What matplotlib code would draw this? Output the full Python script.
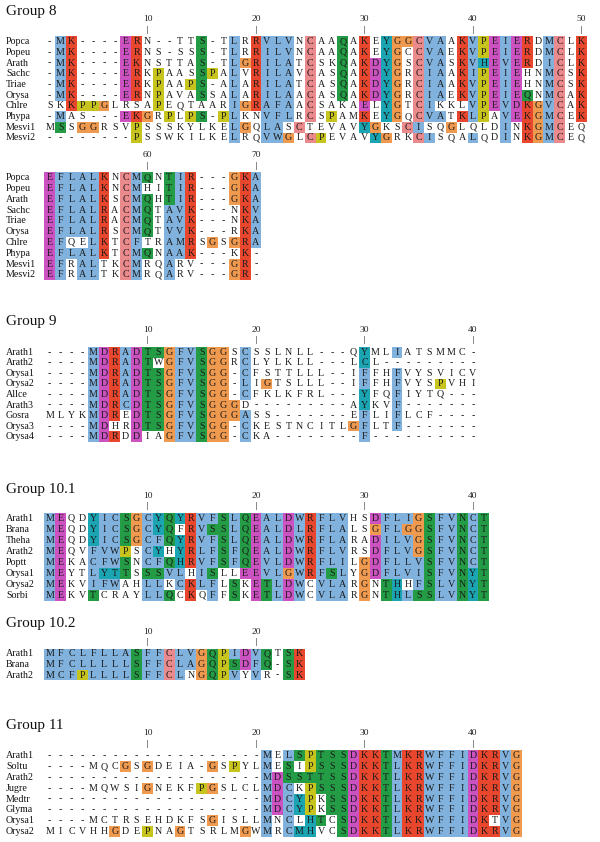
import matplotlib
matplotlib.use('Agg')
import matplotlib.pyplot as plt
from matplotlib.patches import Rectangle

# ── Alignment data ───────────────────────────────────────────────
# colour codes (ClustalX classes): b hydrophobic, r positive, m negative,
# g polar, o glycine, y proline, c aromatic, p cysteine, . none
G8_NAMES = ['Popca', 'Popeu', 'Arath', 'Sachc', 'Triae', 'Orysa',
            'Chlre', 'Phypa', 'Mesvi1', 'Mesvi2']
G8_SEQ_A = [
    '-MK----ERN--TTS-TLRRVLVNCAAQAKEYGGCVAAKVPEIERDMCLK',
    '-MK----ERNS-SSS-TLRRILVNCAAQAKEYGCCVAEKVPEIERDMCLK',
    '-MK----EKNSTTAS-TLGRILATCSKQAKDYGSCVASKVHEVERDICLK',
    '-MK----ERKPAASSPALVRILAVCASQAKDYGRCIAAKIPEIEHNMCSK',
    '-MK----ERKPAAPS-ALARILATCASQAKDYGRCIAAKVPEIEHNMCSK',
    '-MK----ERNPAVASSALARILAACASQAKDYGRCIAEKVPEIEQNMCAK',
    'SKKPPGLRSAPEQTAARIGRAFAACSAKAELYGTCIKKLVPEVDKGVCAK',
    '-MAS---EKGRPLPS-PLKNVFLRCSPAMKEYGQCVATKLPAVEKGMCEK',
    'MSSGGRSVPSSSKYLKELGQLASCTEVAVYGKSCISQGLQLDINKGMCEQ',
    '--------PSSWKILKELRQVWGLCPEVAVYGRKCISQALQDINKGMCEQ',
]
G8_COL_A = [
    '.br....mr.....g..b.rbbb.p..g.r.coopbb.rbymbmr.bp.r',
    '.br....mr.....g..b.rbbb.p..g.r.co.pbb.rbymbmr.bp.r',
    '.br....mr.....g..borbbb.p..g.rmco.pbb.rbcmbmr.bp.r',
    '.br....mr.y...gy.b.rbbb.p..g.rmco.pbb.rbymbm..bp.r',
    '.br....mr.y..yg..b.rbbb.p..g.rmco.pbb.rbymbm..bp.r',
    '.br....mr.y...g..b.rbbb.p..g.rmco.pbb.rbymbmg.bp.r',
    '..ryyo....y......borbbb.p....m.co.pb...bymbmrobp.r',
    '.b.....mro.y.yg.yb..bbb.p.y..r.co.pbb.rby.bmrobp.r',
    '.g.oo...y........bo.bb.p.....co..pb..o....b.robp..',
    '........y........b..bbo.py....co..pb...b..b.robp..',
]
G8_SEQ_B = [
    'EFLALKNCMQNTIR---GKA',
    'EFLALKNCMHITIR---GKA',
    'EFLALKSCMQHTIR---GKA',
    'EFLALRACMQTAVK---NKV',
    'EFLALRACMQTAVK---NKA',
    'EFLALRSCMQTVVK---RKA',
    'EFQELKTCFTRAMRSGSGRA',
    'EFLALKTCMQNAAK---KK-',
    'EFRALTKCMRQARV---GR-',
    'EFRALTKCMRQARV---GR-',
]
G8_COL_B = [
    'mbbbbr.pbg.gbr...orb',
    'mbbbbr.pb..gbr...orb',
    'mbbbbr.pbg.gbr...orb',
    'mbbbbr.pbg.bbr....rb',
    'mbbbbr.pbg.bbr....rb',
    'mbbbbr.pbg.bbr....rb',
    'mb..br.pb..bbr.o.orb',
    'mbbbbr.pbg.bbr....r.',
    'mb.bb..pb..b.....or.',
    'mb.bb..pb..b.....or.',
]

G9_NAMES = ['Arath1', 'Arath2', 'Orysa1', 'Orysa2', 'Allce', 'Arath3',
            'Gosra', 'Orysa3', 'Orysa4']
G9_SEQ = [
    '----MDRADTSGFVSGGSCSSLNLL---QYMLIATSMMC-',
    '----MDRADTWGFVSGGRCLYLKLL---LCL---------',
    '----MDRADTSGFVSGG-CFSTTLLL--IFFHFVYSVICV',
    '----MDRADTSGFVSGG-LIGTSLLL--IFFHFVYSPVHI',
    '----MDRADTSGFVSGG-CFKLKFRL---YFQFIYTQ---',
    '----MDRCDTSGFVSGGGD---------AYKVF-------',
    'MLYKMDREDTSGFVSGGGASS-------EFLIFLCF----',
    '----MDHRDTSGFVSGG-CKESTNCITLGFLTF-------',
    '----MDRDDIAGFVSGG-CKA--------F----------',
]
G9_COL = [
    '....bmrbmggobbgoo.b..........c..b.......',
    '....bmrbmg.obbgoo.b..........c..........',
    '....bmrbmggobbgoo.b..........b..b.......',
    '....bmrbmggobbgoo.b.o........b..b...y...',
    '....bmrbmggobbgoo.b..........c..b.......',
    '....bmrbmggobbgooo...........c..b.......',
    '....bmr.mggobbgooob..........b..b.......',
    '....bm..mggobbgoo.b.........ob..b.......',
    '....bmr.m..obbgoo.b..........b..........',
]

G101_NAMES = ['Arath1', 'Brana', 'Theha', 'Arath2', 'Poptt', 'Orysa1',
              'Orysa2', 'Sorbi']
G101_SEQ = [
    'MEQDYICSGCYQYRVFSLQEALDWRFLVHSDFLIGSFVNCT',
    'MEQDYICSGCYQFRVSSLQEALDLRFLALSGFLGGSFVNCT',
    'MEQDYICSGCFQYRVFSLQEALDWRFLARADILVGSFVNCT',
    'MEQVFVWPSCYHYRLFSFQEALDWRFLVRSDFLVGSFVNCT',
    'MEKACFWSNCFQHRVFSFQEVLDWRFLILGDFLLVSFVNCT',
    'MEYTLYTTSSSVLHISLLEEVLGWRFSLYGDFLVISFVNYT',
    'MEKVIFWAHLLKCKLFLSKETLDWCVLARGNTHHFSLVNYT',
    'MEKVTCRAYLLQCKQFFSKETLDWCVLARGNTHLSSLVNYT',
]
G101_COL = [
    'bm..cbbgobcgcrbbgbgmbbmbrbbb..mbbbogbbgbg',
    'bm..cbbgobcg.rbggbgmbbmbrbbb..obboogbbgbg',
    'bm..cbbgobbgcrbbgbgmbbmbrbbb..mbbbogbbgbg',
    'bm..bbby.bc.crbbgbgmbbmbrbbb..mbbbogbbgbg',
    'bm..bbbg.bbgcrbbgbgmbbmbrbbb.ombbbbgbbgbg',
    'bm..bccg.ggbb.bg..mmbbobrbgb.ombbbbgbbgcg',
    'bm..bbb..bb.brbb.g.mgbmb.bbb.o.gc.bgbbgcg',
    'bm..g....bbg.r.b.g.mgbmb.bbb.o.gcbggbbgcg',
]

G102_NAMES = ['Arath1', 'Brana', 'Arath2']
G102_SEQ = [
    'MFCLFLLASFFCLVGQPIDVQTSK',
    'MFCLLLLLSFFCLAGQPSDFQ-SK',
    'MCFPLLLLSFFCLNGQPVYVR-SK',
]
G102_COL = [
    'bbbbbbbbgbbpbbogybmbg.gr',
    'bbbbbbbbgbbpbbogygmbg.gr',
    'bbbybbbbgbbpb.ogyb.b..gr',
]

G11_NAMES = ['Arath1', 'Soltu', 'Arath2', 'Jugre', 'Medtr', 'Glyma',
             'Orysa1', 'Orysa2']
G11_SEQ = [
    '--------------------MELSPTSSDKKTMKRWFFIDKRVG',
    '----MQCGSGDEIA-GSPYLMESIPSSSDKKTLKRWFFIDKRVG',
    '--------------------MDSSTTSSDKKTLKRWFFIDKRVG',
    '----MQWSIGNEKFPGSLCLMDCKPSSSDKKTLKRWFFIDKRVG',
    '--------------------MDCYPKSSDKKTLKRWFFIDKRVG',
    '--------------------MDCYPKSSDKKTLKRWFFIDKRVG',
    '----MCTRSEHDKFSGISLLMNCLHTCSDKKTLKKWFFIDKTVG',
    'MICVHHGDEPNAGTSRLMGWMRCMHVCSDKKTLKRWFFIDKRVG',
]
G11_COL = [
    '....................b.bgygggmrrgbrrbbbbmrrbo',
    '.......o.o.....o.y..b.g.ygggmrrgbrrbbbbmrrbo',
    '....................bmggggggmrrgbrrbbbbmrrbo',
    '.........o....yo....bmb.ygggmrrgbrrbbbbmrrbo',
    '....................bmbcy.ggmrrgbrrbbbbmrrbo',
    '....................bmbcy.ggmrrgbrrbbbbmrrbo',
    '...............o....b.b.cg.gmrrgbrrbbbbmr.bo',
    '......o..y..o.....o.b.bcc..gmrrgbrrbbbbmrrbo',
]

# ── Styling ──────────────────────────────────────────────────────
PALETTE = {
    'b': '#80b2dd', 'r': '#e8472e', 'm': '#cc52c2', 'g': '#239c45',
    'o': '#ef9a4e', 'y': '#c8c41e', 'c': '#1ba5b3', 'p': '#eb8a8c',
}
SERIF = ['Liberation Serif', 'DejaVu Serif']
X0, CW = 49.8, 10.85

# block layout: title, title y, first row y, row step, first column number
blocks = [
    ('Group 8',    12,  G8_NAMES,   G8_SEQ_A,   G8_COL_A, 41.7,  10.7,  1),
    (None,         None, G8_NAMES,  G8_SEQ_B,   G8_COL_B, 177.7, 10.8, 51),
    ('Group 9',    322, G9_NAMES,   G9_SEQ,     G9_COL,   352.3, 10.55, 1),
    ('Group 10.1', 489, G101_NAMES, G101_SEQ,   G101_COL, 518.3, 11.0,  1),
    ('Group 10.2', 624, G102_NAMES, G102_SEQ,   G102_COL, 654.0, 10.5,  1),
    ('Group 11',   726, G11_NAMES,  G11_SEQ,    G11_COL,  755.7, 10.85, 1),
]

fig = plt.figure(figsize=(6, 8.42), dpi=100)
ax = fig.add_axes([0, 0, 1, 1])
ax.set_xlim(0, 600)
ax.set_ylim(842, 0)
ax.axis('off')

for title, ty, names, seqs, cols, y0, dy, start in blocks:
    if title:
        ax.text(6, ty, title, fontsize=11, family=SERIF, ha='left',
                va='center', color='#111')
    ncol = max(len(s) for s in seqs)
    # position ruler
    for i in range(ncol):
        num = start + i
        if num % 10 == 0:
            x = X0 + i * CW
            ax.text(x, y0 - 22.5, str(num), fontsize=6.8, family=SERIF,
                    ha='center', va='center', color='#222')
            ax.plot([x, x], [y0 - 16, y0 - 9], color='#888', lw=0.7)
    for r, (name, seq, cc) in enumerate(zip(names, seqs, cols)):
        y = y0 + r * dy
        ax.text(6, y, name, fontsize=7.2, family=SERIF, ha='left',
                va='center', color='#111')
        cc = cc.ljust(len(seq), '.')
        for i, (ch, code) in enumerate(zip(seq, cc)):
            x = X0 + i * CW
            if code in PALETTE:
                ax.add_patch(Rectangle((x - CW / 2, y - dy / 2), CW, dy,
                                       facecolor=PALETTE[code],
                                       edgecolor='none', zorder=1))
            ax.text(x, y, ch, fontsize=7.2, family=SERIF, ha='center',
                    va='center', color='#1a1a1a', zorder=2)

fig.savefig('out.png', dpi=100, facecolor='white')
